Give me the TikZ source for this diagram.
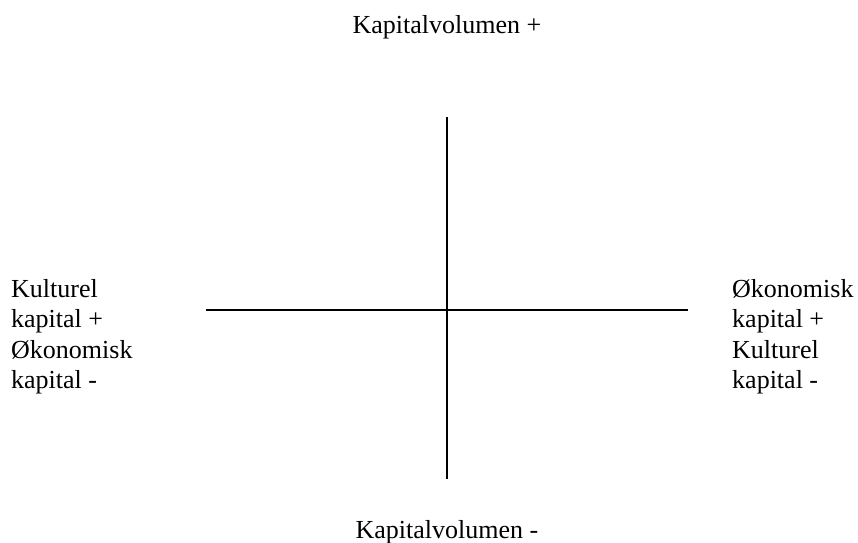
\documentclass[tikz,border=0pt]{standalone}
\usepackage{fontspec}
\setmainfont{Liberation Serif}
\begin{document}
\begin{tikzpicture}[x=1pt,y=-1pt,
  lbl/.style={inner sep=0pt,font=\fontsize{26}{30}\selectfont},
  axis/.style={line width=1.7pt,black}]
\useasboundingbox (0,0) rectangle (858,542);
% axes
\coordinate (top) at (447,117);
\coordinate (bot) at (447,479);
\coordinate (lft) at (206,310);
\coordinate (rgt) at (688,310);
\draw[axis] (top) -- (bot);
\draw[axis] (lft) -- (rgt);
% labels
\node[lbl,anchor=base] (tl) at (447,33) {Kapitalvolumen +};
\node[lbl,anchor=base] (bl) at (447,538) {Kapitalvolumen -};
\node[lbl,anchor=base west] (l1) at (11,297) {Kulturel};
\node[lbl,anchor=base west] (l2) at (11,327.5) {kapital +};
\node[lbl,anchor=base west] (l3) at (11,358) {Økonomisk};
\node[lbl,anchor=base west] (l4) at (11,388) {kapital -};
\node[lbl,anchor=base west] (r1) at (732,297) {Økonomisk};
\node[lbl,anchor=base west] (r2) at (732,327.5) {kapital +};
\node[lbl,anchor=base west] (r3) at (732,358) {Kulturel};
\node[lbl,anchor=base west] (r4) at (732,388) {kapital -};
\end{tikzpicture}
\end{document}
